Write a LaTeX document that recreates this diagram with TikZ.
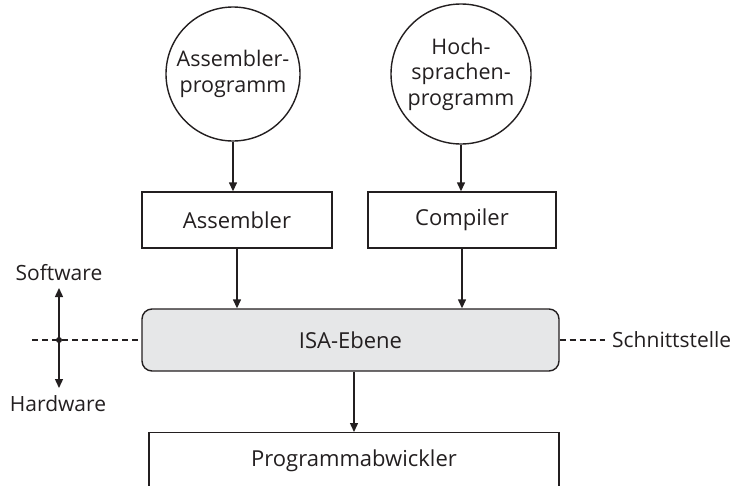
\documentclass[tikz,border=0pt]{standalone}
\usepackage{fontspec}
\setmainfont{Open Sans}
\usetikzlibrary{arrows.meta}
\definecolor{isagray}{HTML}{E6E7E8}
\definecolor{ink}{HTML}{231F20}
\begin{document}
\begin{tikzpicture}[x=1pt,y=-1pt,
  every node/.style={font=\fontsize{22}{25}\selectfont, text=ink},
  sidelabel/.style={font=\fontsize{21}{25}\selectfont},
  circ/.style={draw=ink, line width=1.4pt, circle, minimum size=134pt, inner sep=0pt, align=center, font=\fontsize{21.5}{25.5}\selectfont},
  box/.style={draw=ink, line width=1.4pt, rectangle, minimum width=190pt, minimum height=56pt, inner sep=0pt},
  isabox/.style={draw=ink, line width=1.4pt, rounded corners=10pt, fill=isagray, minimum width=417pt, minimum height=62pt, inner sep=0pt},
  arr/.style={draw=ink, line width=1.4pt, -{Triangle[length=9pt,width=8pt]}},
  dashline/.style={draw=ink, line width=1.2pt, dash pattern=on 6pt off 4pt}
]
\clip (0,0) rectangle (733,485);
\node[circ] (c1) at (233,74) {Assembler-\\programm};
\node[circ, minimum size=140pt] (c2) at (461,74) {Hoch-\\sprachen-\\programm};
\node[box] (a1) at (237,220) {Assembler};
\node[box, minimum width=188pt] (a2) at (462,220) {Compiler};
\node[isabox] (isa) at (350.5,340) {ISA-Ebene};
\node[draw=ink, line width=1.4pt, anchor=north, minimum width=410pt, inner xsep=0pt, inner ysep=10pt, text height=24pt, text depth=40pt] (prog) at (354,432) {Programmabwickler};

\draw[arr] (c1.south) -- (c1.south |- a1.north);
\draw[arr] (c2.south) -- (c2.south |- a2.north);
\draw[arr] (a1.south) -- (a1.south |- isa.north);
\draw[arr] (a2.south) -- (a2.south |- isa.north);
\draw[arr] (isa.south -| prog.north) -- (prog.north);

\coordinate (dl) at (32,340);
\coordinate (mid) at (59,340);
\coordinate (up) at (59,288);
\coordinate (down) at (59,388);
\coordinate (dr) at (605,340);
\draw[dashline] (dl) -- (isa.west);
\draw[dashline] (isa.east) -- (dr);
\draw[arr] (mid) -- (up);
\draw[arr] (mid) -- (down);
\fill[ink] (mid) circle (3pt);
\node[sidelabel] (sw) at (59,273) {Software};
\node[sidelabel] (hw) at (58,404) {Hardware};
\node[sidelabel, anchor=west, inner xsep=0pt] (st) at (612,340) {Schnittstelle};
\end{tikzpicture}
\end{document}
